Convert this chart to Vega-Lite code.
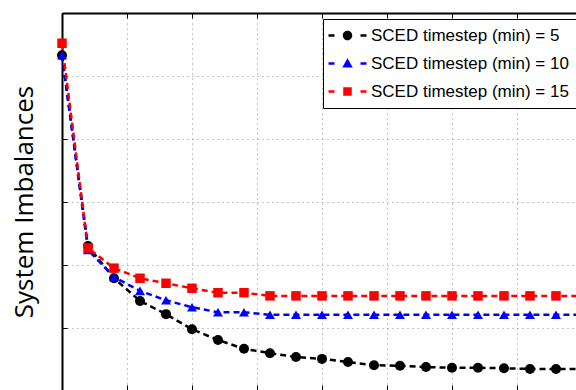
{
  "$schema": "https://vega.github.io/schema/vega-lite/v6.json",
  "width": 514,
  "height": 377,
  "autosize": {"type": "none"},
  "padding": {"left": 62, "top": 13, "right": 0, "bottom": 0},
  "background": "white",
  "config": {"view": {"stroke": null}, "font": "Liberation Sans"},
  "data": {
    "values": [
      {"series": "SCED timestep (min) = 5", "step": 0, "imbalance": 53.3},
      {"series": "SCED timestep (min) = 5", "step": 2, "imbalance": 23.0},
      {"series": "SCED timestep (min) = 5", "step": 4, "imbalance": 17.9},
      {"series": "SCED timestep (min) = 5", "step": 6, "imbalance": 14.3},
      {"series": "SCED timestep (min) = 5", "step": 8, "imbalance": 12.2},
      {"series": "SCED timestep (min) = 5", "step": 10, "imbalance": 9.8},
      {"series": "SCED timestep (min) = 5", "step": 12, "imbalance": 8.1},
      {"series": "SCED timestep (min) = 5", "step": 14, "imbalance": 6.7},
      {"series": "SCED timestep (min) = 5", "step": 16, "imbalance": 6.0},
      {"series": "SCED timestep (min) = 5", "step": 18, "imbalance": 5.4},
      {"series": "SCED timestep (min) = 5", "step": 20, "imbalance": 5.1},
      {"series": "SCED timestep (min) = 5", "step": 22, "imbalance": 4.6},
      {"series": "SCED timestep (min) = 5", "step": 24, "imbalance": 4.1},
      {"series": "SCED timestep (min) = 5", "step": 26, "imbalance": 4.0},
      {"series": "SCED timestep (min) = 5", "step": 28, "imbalance": 3.8},
      {"series": "SCED timestep (min) = 5", "step": 30, "imbalance": 3.7},
      {"series": "SCED timestep (min) = 5", "step": 32, "imbalance": 3.7},
      {"series": "SCED timestep (min) = 5", "step": 34, "imbalance": 3.6},
      {"series": "SCED timestep (min) = 5", "step": 36, "imbalance": 3.5},
      {"series": "SCED timestep (min) = 5", "step": 38, "imbalance": 3.5},
      {"series": "SCED timestep (min) = 5", "step": 40, "imbalance": 3.5},
      {"series": "SCED timestep (min) = 10", "step": 0, "imbalance": 53.3},
      {"series": "SCED timestep (min) = 10", "step": 2, "imbalance": 22.4},
      {"series": "SCED timestep (min) = 10", "step": 4, "imbalance": 18.1},
      {"series": "SCED timestep (min) = 10", "step": 6, "imbalance": 15.9},
      {"series": "SCED timestep (min) = 10", "step": 8, "imbalance": 14.4},
      {"series": "SCED timestep (min) = 10", "step": 10, "imbalance": 13.3},
      {"series": "SCED timestep (min) = 10", "step": 12, "imbalance": 12.5},
      {"series": "SCED timestep (min) = 10", "step": 14, "imbalance": 12.5},
      {"series": "SCED timestep (min) = 10", "step": 16, "imbalance": 12.1},
      {"series": "SCED timestep (min) = 10", "step": 18, "imbalance": 12.1},
      {"series": "SCED timestep (min) = 10", "step": 20, "imbalance": 12.1},
      {"series": "SCED timestep (min) = 10", "step": 22, "imbalance": 12.1},
      {"series": "SCED timestep (min) = 10", "step": 24, "imbalance": 12.1},
      {"series": "SCED timestep (min) = 10", "step": 26, "imbalance": 12.1},
      {"series": "SCED timestep (min) = 10", "step": 28, "imbalance": 12.1},
      {"series": "SCED timestep (min) = 10", "step": 30, "imbalance": 12.1},
      {"series": "SCED timestep (min) = 10", "step": 32, "imbalance": 12.1},
      {"series": "SCED timestep (min) = 10", "step": 34, "imbalance": 12.1},
      {"series": "SCED timestep (min) = 10", "step": 36, "imbalance": 12.1},
      {"series": "SCED timestep (min) = 10", "step": 38, "imbalance": 12.1},
      {"series": "SCED timestep (min) = 10", "step": 40, "imbalance": 12.1},
      {"series": "SCED timestep (min) = 15", "step": 0, "imbalance": 55.2},
      {"series": "SCED timestep (min) = 15", "step": 2, "imbalance": 22.7},
      {"series": "SCED timestep (min) = 15", "step": 4, "imbalance": 19.5},
      {"series": "SCED timestep (min) = 15", "step": 6, "imbalance": 17.9},
      {"series": "SCED timestep (min) = 15", "step": 8, "imbalance": 17.1},
      {"series": "SCED timestep (min) = 15", "step": 10, "imbalance": 16.3},
      {"series": "SCED timestep (min) = 15", "step": 12, "imbalance": 15.6},
      {"series": "SCED timestep (min) = 15", "step": 14, "imbalance": 15.6},
      {"series": "SCED timestep (min) = 15", "step": 16, "imbalance": 15.1},
      {"series": "SCED timestep (min) = 15", "step": 18, "imbalance": 15.1},
      {"series": "SCED timestep (min) = 15", "step": 20, "imbalance": 15.1},
      {"series": "SCED timestep (min) = 15", "step": 22, "imbalance": 15.1},
      {"series": "SCED timestep (min) = 15", "step": 24, "imbalance": 15.1},
      {"series": "SCED timestep (min) = 15", "step": 26, "imbalance": 15.1},
      {"series": "SCED timestep (min) = 15", "step": 28, "imbalance": 15.1},
      {"series": "SCED timestep (min) = 15", "step": 30, "imbalance": 15.1},
      {"series": "SCED timestep (min) = 15", "step": 32, "imbalance": 15.1},
      {"series": "SCED timestep (min) = 15", "step": 34, "imbalance": 15.1},
      {"series": "SCED timestep (min) = 15", "step": 36, "imbalance": 15.1},
      {"series": "SCED timestep (min) = 15", "step": 38, "imbalance": 15.1},
      {"series": "SCED timestep (min) = 15", "step": 40, "imbalance": 15.1}
    ]
  },
  "encoding": {
    "x": {
      "field": "step",
      "type": "quantitative",
      "scale": {"domain": [0, 39.54], "nice": false, "zero": false},
      "axis": null
    },
    "y": {
      "field": "imbalance",
      "type": "quantitative",
      "scale": {"domain": [0.16, 60], "nice": false, "zero": false},
      "axis": {
        "title": "System Imbalances",
        "titleFont": "Open Sans",
        "titleFontSize": 26,
        "titleFontWeight": "normal",
        "titleColor": "black",
        "titlePadding": 24,
        "labels": false,
        "values": [10, 20, 30, 40, 50, 60],
        "ticks": true,
        "tickSize": -5,
        "tickColor": "black",
        "domain": true,
        "domainColor": "black",
        "domainWidth": 2,
        "grid": true,
        "gridColor": "#8a8a8a",
        "gridDash": [1, 4],
        "gridWidth": 1
      }
    },
    "color": {
      "field": "series",
      "type": "nominal",
      "scale": {
        "domain": ["SCED timestep (min) = 5", "SCED timestep (min) = 10", "SCED timestep (min) = 15"],
        "range": ["#000000", "#0000ff", "#ff0000"]
      },
      "legend": null
    }
  },
  "layer": [
    {
      "mark": {"type": "line", "strokeWidth": 2.5, "strokeDash": [6, 4]},
      "encoding": {
        "x": {
          "field": "step",
          "type": "quantitative",
          "scale": {"domain": [0, 39.54], "nice": false, "zero": false},
          "axis": {
            "orient": "bottom",
            "title": null,
            "labels": false,
            "values": [0, 5, 10, 15, 20, 25, 30, 35],
            "domain": false,
            "ticks": true,
            "tickSize": -5,
            "tickColor": "black",
            "grid": true,
            "gridColor": "#8a8a8a",
            "gridDash": [1, 4],
            "gridWidth": 1
          }
        }
      }
    },
    {
      "transform": [{"filter": "datum.series === 'SCED timestep (min) = 5'"}],
      "mark": {"type": "point", "shape": "circle", "filled": true, "opacity": 1, "size": 100},
      "encoding": {
        "x": {
          "field": "step",
          "type": "quantitative",
          "scale": {"domain": [0, 39.54], "nice": false, "zero": false},
          "axis": {
            "orient": "top",
            "title": null,
            "labels": false,
            "values": [0, 5, 10, 15, 20, 25, 30, 35],
            "domain": true,
            "domainColor": "black",
            "domainWidth": 2,
            "ticks": true,
            "tickSize": -5,
            "tickColor": "black",
            "grid": false
          }
        }
      }
    },
    {
      "transform": [{"filter": "datum.series === 'SCED timestep (min) = 10'"}],
      "mark": {"type": "point", "shape": "triangle-up", "filled": true, "opacity": 1, "size": 100}
    },
    {
      "transform": [{"filter": "datum.series === 'SCED timestep (min) = 15'"}],
      "mark": {"type": "point", "shape": "square", "filled": true, "opacity": 1, "size": 90}
    },
    {
      "transform": [{"filter": "false"}],
      "mark": {"type": "point", "filled": true, "opacity": 1, "size": 100},
      "encoding": {
        "color": {
          "field": "series",
          "type": "nominal",
          "scale": {
            "domain": ["SCED timestep (min) = 5", "SCED timestep (min) = 10", "SCED timestep (min) = 15"],
            "range": ["#000000", "#0000ff", "#ff0000"]
          },
          "legend": {
            "title": null,
            "orient": "none",
            "legendX": 261,
            "legendY": 6,
            "padding": 8,
            "strokeColor": "black",
            "fillColor": "white",
            "symbolSize": 100,
            "symbolOffset": 8,
            "symbolStrokeWidth": 0,
            "labelOffset": 15,
            "labelFont": "Liberation Sans",
            "labelFontSize": 17,
            "labelColor": "black",
            "labelLimit": 0,
            "rowPadding": 10
          }
        },
        "shape": {
          "field": "series",
          "type": "nominal",
          "scale": {
            "domain": ["SCED timestep (min) = 5", "SCED timestep (min) = 10", "SCED timestep (min) = 15"],
            "range": [
              "M-3.8,-0.25H-2.6V0.25H-3.8ZM2.6,-0.25H3.8V0.25H2.6ZM0.95,0A0.95,0.95 0 1,1 -0.95,0A0.95,0.95 0 1,1 0.95,0Z",
              "M-3.8,-0.25H-2.6V0.25H-3.8ZM2.6,-0.25H3.8V0.25H2.6ZM0,-1.05L1.05,0.8L-1.05,0.8Z",
              "M-3.8,-0.25H-2.6V0.25H-3.8ZM2.6,-0.25H3.8V0.25H2.6ZM-0.85,-0.85H0.85V0.85H-0.85Z"
            ]
          },
          "legend": {
            "title": null,
            "orient": "none",
            "legendX": 261,
            "legendY": 6,
            "padding": 8,
            "strokeColor": "black",
            "fillColor": "white",
            "symbolSize": 100,
            "symbolOffset": 8,
            "symbolStrokeWidth": 0,
            "labelOffset": 15,
            "labelFont": "Liberation Sans",
            "labelFontSize": 17,
            "labelColor": "black",
            "labelLimit": 0,
            "rowPadding": 10
          }
        }
      }
    }
  ],
  "resolve": {"axis": {"x": "independent"}, "legend": {"color": "independent", "shape": "independent"}}
}
